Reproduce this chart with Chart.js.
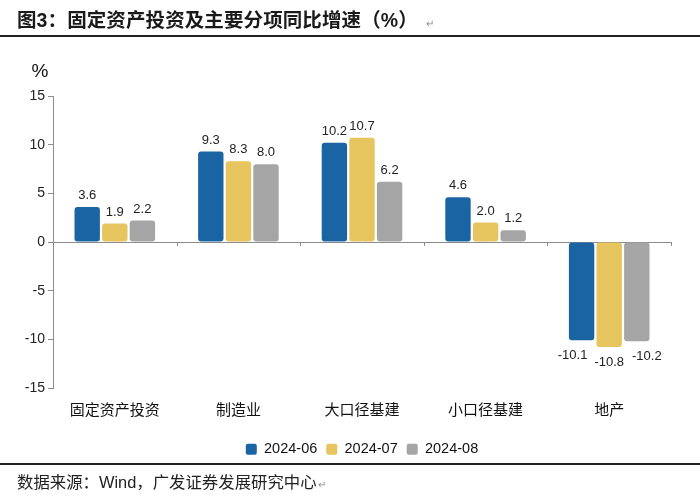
<!DOCTYPE html>
<html><head><meta charset="utf-8">
<script src="https://cdn.jsdelivr.net/npm/chart.js@4"></script>
<style>
html,body{margin:0;padding:0;background:#fff;}
#wrap{position:relative;width:700px;height:501px;overflow:hidden;}
#title{position:absolute;left:17px;top:4px;font-family:"Liberation Sans","Noto Sans CJK SC";font-weight:bold;font-size:19.5px;color:#1a1a1a;white-space:nowrap;letter-spacing:0.1px;}
#title .ret,#foot .ret{font-weight:normal;font-size:10px;color:#888;margin-left:8px;}
#line1{position:absolute;left:0;top:35px;width:700px;height:2px;background:#222;}
#line2{position:absolute;left:0;top:463px;width:700px;height:2px;background:#222;}
#foot{position:absolute;left:17px;top:469px;font-family:"Liberation Sans","Noto Sans CJK SC";font-size:16.4px;color:#222;white-space:nowrap;}
canvas{position:absolute;left:0;top:0;}
</style></head>
<body><div id="wrap">
<canvas id="c" width="700" height="501"></canvas>
<div id="title">图3：固定资产投资及主要分项同比增速（%）<span class="ret">↵</span></div>
<div id="line1"></div>
<div id="foot">数据来源：Wind，广发证券发展研究中心<span class="ret" style="margin-left:1px">↵</span></div>
<div id="line2"></div>
</div>
<script>
const categories = ["固定资产投资","制造业","大口径基建","小口径基建","地产"];
const s202406 = [3.6, 9.3, 10.2, 4.6, -10.1];
const s202407 = [1.9, 8.3, 10.7, 2.0, -10.8];
const s202408 = [2.2, 8.0, 6.2, 1.2, -10.2];
const seriesNames = ["2024-06","2024-07","2024-08"];
const yTicks = {min:-15, max:15, step:5};

const FONT = '"Liberation Sans", "Noto Sans CJK SC", sans-serif';
const colors = ["#1B64A3","#E6C45E","#A5A5A5"];
// horizontal nudges of negative-value labels per series (to avoid overlap, as in the original)
const negLabelNudge = [-9, 0, 10];

const labelPlugin = {
  id:'valueLabels',
  afterDatasetsDraw(chart){
    const ctx = chart.ctx;
    ctx.save();
    ctx.font = '13px ' + FONT;
    ctx.fillStyle = '#222';
    ctx.textAlign = 'center';
    chart.data.datasets.forEach((ds, di)=>{
      const meta = chart.getDatasetMeta(di);
      meta.data.forEach((bar, i)=>{
        const v = ds.data[i];
        const txt = v.toFixed(1);
        if (v >= 0){ ctx.textBaseline='bottom'; ctx.fillText(txt, bar.x, bar.y - 5); }
        else { ctx.textBaseline='top'; ctx.fillText(txt, bar.x + negLabelNudge[di], bar.y + 9); }
      });
    });
    ctx.restore();
  }
};
const axisExtras = {
  id:'axisExtras',
  afterDraw(chart){
    const ctx = chart.ctx, x = chart.scales.x, y = chart.scales.y;
    const y0 = y.getPixelForValue(0);
    ctx.save();
    ctx.strokeStyle = '#8c8c8c'; ctx.lineWidth = 1;
    const n = chart.data.labels.length, w = (x.right - x.left)/n;
    for (let i=1;i<=n;i++){
      const px = Math.round(x.left + i*w) + 0.5;
      ctx.beginPath(); ctx.moveTo(px, y0); ctx.lineTo(px, y0+4); ctx.stroke();
    }
    ctx.font = '19px ' + FONT; ctx.fillStyle = '#111';
    ctx.textAlign='center'; ctx.textBaseline='middle';
    ctx.fillText('%', 40, 72);
    ctx.restore();
  }
};

new Chart(document.getElementById('c'), {
  type:'bar',
  data:{
    labels: categories,
    datasets:[
      {label:seriesNames[0], data:s202406, backgroundColor:colors[0]},
      {label:seriesNames[1], data:s202407, backgroundColor:colors[1]},
      {label:seriesNames[2], data:s202408, backgroundColor:colors[2]}
    ]
  },
  options:{
    responsive:false, animation:false,
    layout:{padding:{top:96,right:29,bottom:34.5,left:0}},
    datasets:{bar:{categoryPercentage:0.67, barPercentage:0.92, borderRadius:3, borderSkipped:false}},
    scales:{
      x:{
        grid:{display:false, drawTicks:false}, border:{display:false},
        ticks:{font:{size:15, family:FONT}, color:'#111', padding:14},
        afterFit(s){ s.height = 45; }
      },
      y:{
        min:yTicks.min, max:yTicks.max,
        ticks:{stepSize:yTicks.step, font:{size:14, family:FONT}, color:'#222', padding:3},
        grid:{drawOnChartArea:true, tickLength:5, tickColor:'#8c8c8c',
              color:(c)=> c.tick && c.tick.value===0 ? '#8c8c8c' : 'rgba(0,0,0,0)'},
        border:{display:true, color:'#8c8c8c'},
        afterFit(s){ s.width = 53; }
      }
    },
    plugins:{
      legend:{position:'bottom', fullSize:false,
        labels:{boxWidth:11, boxHeight:11, padding:9, color:'#111', font:{size:14.5, family:FONT}, useBorderRadius:true, borderRadius:2}},
      tooltip:{enabled:false}
    }
  },
  plugins:[labelPlugin, axisExtras]
});
</script>
</body></html>
